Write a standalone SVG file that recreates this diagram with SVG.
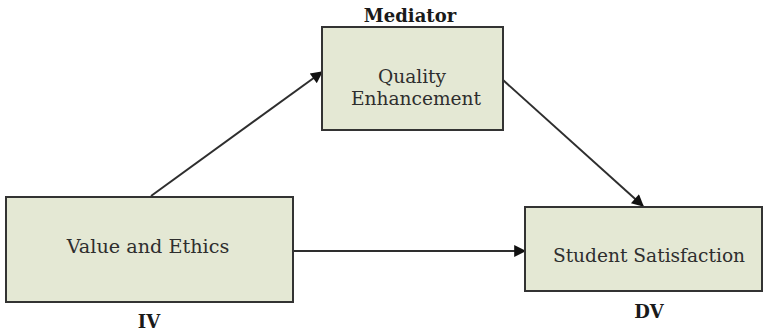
<svg xmlns="http://www.w3.org/2000/svg" width="765" height="333" viewBox="0 0 765 333">
<style>
.box{fill:#e4e8d4;stroke:#333;stroke-width:2}
.t{font-family:"DejaVu Serif","Liberation Serif",serif;font-size:18.6px;fill:#2e2e2e;text-anchor:middle}
.b{font-family:"DejaVu Serif","Liberation Serif",serif;font-size:18px;font-weight:bold;fill:#1a1a1a;text-anchor:middle}
.c{stroke:#2e2e2e;stroke-width:2;fill:none;marker-end:url(#ah)}
</style>
<defs>
<marker id="ah" viewBox="0 0 10 10" refX="9" refY="5" markerWidth="14" markerHeight="12" markerUnits="userSpaceOnUse" orient="auto"><path d="M0,0 L10,5 L0,10 z" fill="#111"/></marker>
</defs>
<rect width="765" height="333" fill="#fff"/>
<g id="connectors">
<line class="c" x1="151" y1="196" x2="322" y2="72"/>
<line class="c" x1="503" y1="80" x2="643" y2="206"/>
<line class="c" x1="293" y1="251" x2="525" y2="251"/>
</g>
<g id="mediator">
<rect class="box" x="322" y="27" width="181" height="103"/>
<text class="b" x="410" y="22">Mediator</text>
<text class="t" x="412" y="83">Quality</text>
<text class="t" x="416" y="105">Enhancement</text>
</g>
<g id="iv">
<rect class="box" x="6" y="197" width="287" height="105"/>
<text class="t" x="148" y="253" style="font-size:19.2px">Value and Ethics</text>
<text class="b" x="149" y="328">IV</text>
</g>
<g id="dv">
<rect class="box" x="525" y="207" width="237" height="84"/>
<text class="t" x="649" y="262">Student Satisfaction</text>
<text class="b" x="649" y="318">DV</text>
</g>
</svg>
